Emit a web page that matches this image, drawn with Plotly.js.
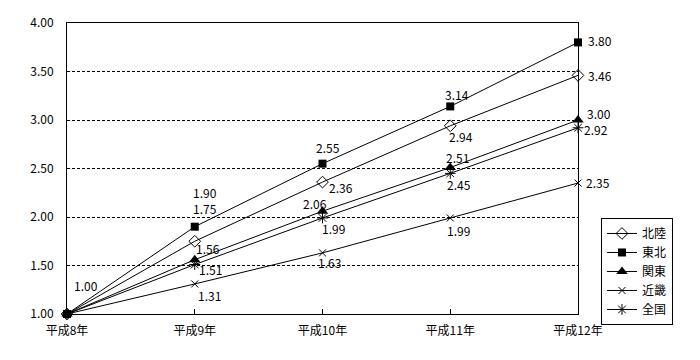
<!DOCTYPE html>
<html>
<head>
<meta charset="utf-8">
<script src="https://cdn.plot.ly/plotly-3.0.1.min.js"></script>
<style>html,body{margin:0;padding:0;background:#fff;}#chart{width:700px;height:360px;}</style>
</head>
<body>
<div id="chart"></div>
<script>
const categories = ["平成8年", "平成9年", "平成10年", "平成11年", "平成12年"];
const seriesNames = ["北陸", "東北", "関東", "近畿", "全国"];
const hokuriku = [1.00, 1.75, 2.36, 2.94, 3.46];
const tohoku   = [1.00, 1.90, 2.55, 3.14, 3.80];
const kanto    = [1.00, 1.56, 2.06, 2.51, 3.00];
const kinki    = [1.00, 1.31, 1.63, 1.99, 2.35];
const zenkoku  = [1.00, 1.51, 1.99, 2.45, 2.92];
const yTicks   = [1.00, 1.50, 2.00, 2.50, 3.00, 3.50, 4.00];

const seriesValues = [hokuriku, tohoku, kanto, kinki, zenkoku];

// styling (not data)
const markerStyles = [
  {symbol: "diamond-open", size: 9, color: "#000", line: {width: 1, color: "#000"}},
  {symbol: "square", size: 8, color: "#000", line: {width: 0}},
  {symbol: "triangle-up", size: 10, color: "#000", line: {width: 0}},
  {symbol: "x-thin-open", size: 7, color: "#000", line: {width: 1, color: "#000"}},
  {symbol: "asterisk-open", size: 9, color: "#000", line: {width: 1, color: "#000"}}
];
// label offsets in pixels [dx, dy] (dy positive = down)
const labelOffsets = [
  [null, [10, -33], [18, 5], [11, 11], [22, 0]],
  [[19, -29], [10, -34], [5, -16], [7, -12], [22, -2]],
  [null, [13, -11], [-8, -8], [7, -10], [21, -7]],
  [null, [15, 12], [7, 10], [8, 13], [20, -1]],
  [null, [16, 5], [11, 11], [9, 11], [18, 2]]
];

const FONT = '"Noto Sans CJK JP", "DejaVu Sans", sans-serif';

const traces = seriesNames.map((name, s) => ({
  type: "scatter",
  mode: "lines+markers",
  name: name,
  x: categories,
  y: seriesValues[s],
  line: {color: "#000", width: 1},
  marker: markerStyles[s],
  cliponaxis: false
}));

const annotations = [];
seriesValues.forEach((vals, s) => {
  vals.forEach((v, i) => {
    const off = labelOffsets[s][i];
    if (!off) return;
    annotations.push({
      x: categories[i], y: v, xref: "x", yref: "y",
      text: v.toFixed(2), showarrow: false,
      xshift: off[0], yshift: -off[1],
      font: {family: FONT, size: 12, color: "#000"}
    });
  });
});

const layout = {
  width: 700, height: 360,
  margin: {l: 67, r: 122, t: 23, b: 46, pad: 0},
  paper_bgcolor: "#fff", plot_bgcolor: "#fff",
  font: {family: FONT, size: 12, color: "#000"},
  showlegend: true,
  legend: {
    x: 1.045, y: 0.33, xanchor: "left", yanchor: "top",
    bordercolor: "#000", borderwidth: 1, bgcolor: "#fff",
    font: {family: FONT, size: 12, color: "#000"},
    itemwidth: 30, tracegroupgap: 0
  },
  xaxis: {
    type: "category", range: [0, 4],
    showline: true, linecolor: "#000", linewidth: 1, mirror: true,
    showgrid: false, zeroline: false,
    ticks: "inside", ticklen: 5, tickcolor: "#000",
    tickfont: {family: FONT, size: 12, color: "#000"},
    ticklabelstandoff: 6
  },
  yaxis: {
    range: [1, 4], tickvals: yTicks, tickformat: ".2f",
    showline: true, linecolor: "#000", linewidth: 1, mirror: true,
    showgrid: true, gridcolor: "#000", gridwidth: 1, griddash: "3px,2px",
    zeroline: false, ticks: "", 
    tickfont: {family: FONT, size: 12, color: "#000"},
    ticklabelstandoff: 10
  },
  annotations: annotations
};

Plotly.newPlot("chart", traces, layout, {displayModeBar: false, staticPlot: true});
</script>
</body>
</html>
